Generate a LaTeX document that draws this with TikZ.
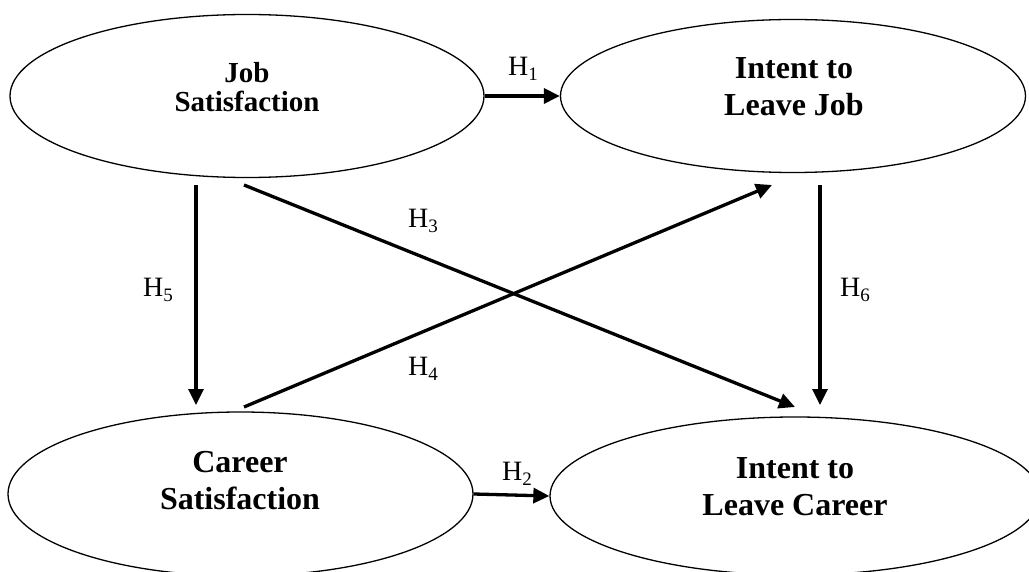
\documentclass[tikz,border=0pt]{standalone}
\usepackage{fontspec,tikz}
\setmainfont{Liberation Serif}
\usetikzlibrary{shapes.geometric,arrows.meta}

\newcommand{\hyp}[1]{H\raisebox{-5pt}{\fontsize{19}{19}\selectfont #1}}

\begin{document}
\begin{tikzpicture}[x=1pt,y=-1pt,
  construct/.style={ellipse,draw,line width=1.3pt,inner sep=0pt},
  title/.style={align=center,inner sep=0pt,font=\fontsize{32}{37}\selectfont\bfseries},
  path/.style={line width=3.3pt,-{Triangle[length=16pt,width=15pt]}},
  hlabel/.style={anchor=base west,inner sep=0pt,font=\fontsize{28}{33.6}\selectfont}]
\path[use as bounding box] (0,0) rectangle (1029.0,572.0);
% constructs
\node[construct,minimum width=474pt,minimum height=163pt] (job) at (247,96) {};
\node[construct,minimum width=465pt,minimum height=153pt] (ijob) at (793,96) {};
\node[construct,minimum width=465pt,minimum height=164pt] (career) at (240.5,494) {};
\node[construct,minimum width=490pt,minimum height=158pt] (icareer) at (795,496) {};
\node[title,font=\fontsize{29}{29}\selectfont\bfseries] (jobtext) at (247,87) {Job\\Satisfaction};
\node[title] (ijobtext) at (794,87) {Intent to\\Leave Job};
\node[title] (careertext) at (240,481) {Career\\Satisfaction};
\node[title] (icareertext) at (795,487) {Intent to\\Leave Career};
% arrow ends
\coordinate (h3a) at (244,185);
\coordinate (h3b) at (795,407);
\coordinate (h4a) at (244,407);
\coordinate (h4b) at (772,185);
\coordinate (h5a) at (196,185);
\coordinate (h5b) at (196,405);
\coordinate (h6a) at (820,185);
\coordinate (h6b) at (820,405);
% hypotheses
\draw[path] (job.east) -- (ijob.west);
\draw[path] (career.east) -- (icareer.west);
\draw[path] (h3a) -- (h3b);
\draw[path] (h4a) -- (h4b);
\draw[path] (h5a) -- (h5b);
\draw[path] (h6a) -- (h6b);
\node[hlabel] (l1) at (508,76) {\hyp{1}};
\node[hlabel] (l2) at (502,480) {\hyp{2}};
\node[hlabel] (l3) at (408,228) {\hyp{3}};
\node[hlabel] (l4) at (408,375) {\hyp{4}};
\node[hlabel] (l5) at (143,297) {\hyp{5}};
\node[hlabel] (l6) at (840,297) {\hyp{6}};
\end{tikzpicture}
\end{document}
